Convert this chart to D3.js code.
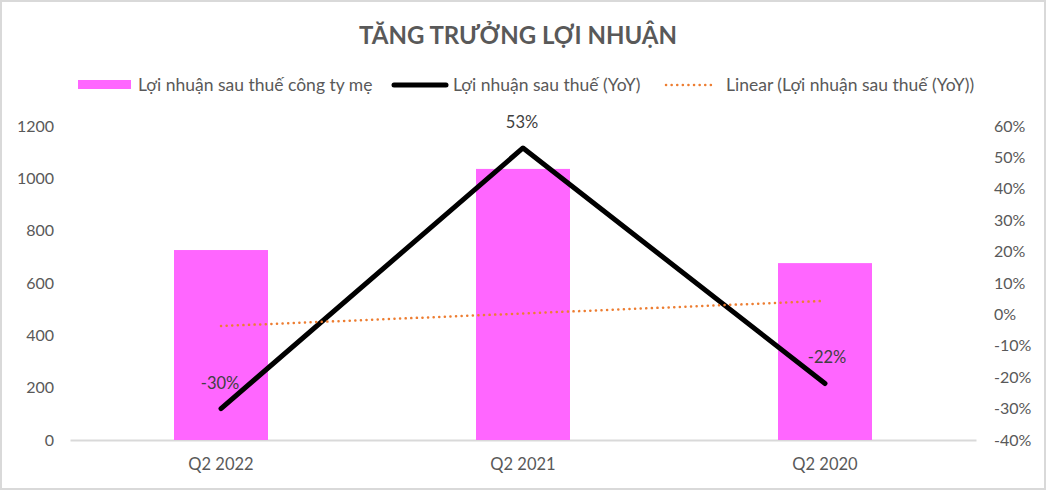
<!DOCTYPE html>
<html>
<head>
<meta charset="utf-8">
<script src="https://cdn.jsdelivr.net/npm/d3@7"></script>
<style>
html,body{margin:0;padding:0;background:#fff;}
svg{display:block;font-family:Lato, "Open Sans", sans-serif;}
</style>
</head>
<body>
<svg id="chart" width="1046" height="490"></svg>
<script>
const categories = ["Q2 2022", "Q2 2021", "Q2 2020"];
const profitValues = [726, 1036, 676];
const yoyValues = [-30, 53, -22];
const yoyLabels = ["-30%", "53%", "-22%"];
const trendValues = [-3.7, 0.3, 4.3];
const leftTicks = [0, 200, 400, 600, 800, 1000, 1200];
const rightTicks = [-40, -30, -20, -10, 0, 10, 20, 30, 40, 50, 60];
const title = "TĂNG TRƯỞNG LỢI NHUẬN";
const legendLabels = ["Lợi nhuận sau thuế công ty mẹ", "Lợi nhuận sau thuế (YoY)", "Linear (Lợi nhuận sau thuế (YoY))"];

const svg = d3.select("#chart");
const W = 1046, H = 490;
const textColor = "#595959";

svg.append("rect").attr("x", 1).attr("y", 1).attr("width", W - 2).attr("height", H - 2)
  .attr("fill", "#fff").attr("stroke", "#d9d9d9").attr("stroke-width", 2);

const x = d3.scaleBand().domain(categories).range([70, 976]).paddingInner(0).paddingOuter(0);
const barW = 94;
const yL = d3.scaleLinear().domain([0, 1200]).range([440, 126]);
const yR = d3.scaleLinear().domain([-40, 60]).range([440, 126]);

// title
svg.append("text").attr("x", 518).attr("y", 44).attr("text-anchor", "middle")
  .attr("font-size", 24).attr("font-weight", "bold").attr("fill", textColor).text(title);

// left axis
const axL = svg.append("g").attr("transform", "translate(54,0)")
  .call(d3.axisLeft(yL).tickValues(leftTicks).tickSize(0).tickPadding(0).tickFormat(d3.format("d")));
axL.select(".domain").remove();
axL.selectAll("text").attr("font-size", 16).attr("fill", textColor).attr("font-family", "Lato, sans-serif");

// right axis
const axR = svg.append("g").attr("transform", "translate(994,0)")
  .call(d3.axisRight(yR).tickValues(rightTicks).tickSize(0).tickPadding(0).tickFormat(d => d + "%"));
axR.select(".domain").remove();
axR.selectAll("text").attr("font-size", 16).attr("fill", textColor).attr("font-family", "Lato, sans-serif");

// bottom axis
const axB = svg.append("g").attr("transform", "translate(0,440)")
  .call(d3.axisBottom(x).tickSize(0).tickPadding(18));
axB.select(".domain").attr("stroke", "#d9d9d9").attr("stroke-width", 2);
axB.selectAll("text").attr("font-size", 16.5).attr("fill", textColor).attr("font-family", "Lato, sans-serif");

// bars
svg.append("g").selectAll("rect").data(profitValues).join("rect")
  .attr("x", (d, i) => x(categories[i]) + x.bandwidth() / 2 - barW / 2)
  .attr("width", barW)
  .attr("y", d => yL(d))
  .attr("height", d => yL(0) - yL(d))
  .attr("fill", "#FF66FF");

const cx = (i) => x(categories[i]) + x.bandwidth() / 2;

// YoY line
const line = d3.line().x((d, i) => cx(i)).y(d => yR(d));
svg.append("path").datum(yoyValues).attr("d", line)
  .attr("fill", "none").attr("stroke", "#000").attr("stroke-width", 5)
  .attr("stroke-linecap", "round").attr("stroke-linejoin", "round");

// trend line
svg.append("path").datum(trendValues).attr("d", line)
  .attr("fill", "none").attr("stroke", "#ED7D31").attr("stroke-width", 2.5)
  .attr("stroke-dasharray", "0.1 5.5").attr("stroke-linecap", "round");

// data labels
svg.append("g").selectAll("text").data(yoyValues).join("text")
  .attr("x", (d, i) => cx(i) + (i === 2 ? 2 : -1))
  .attr("y", d => yR(d) - 20)
  .attr("text-anchor", "middle").attr("font-size", 16.5).attr("fill", "#404040")
  .text((d, i) => yoyLabels[i]);

// legend
const lg = svg.append("g");
lg.append("rect").attr("x", 78).attr("y", 80).attr("width", 53).attr("height", 9).attr("fill", "#FF66FF");
lg.append("text").attr("x", 138).attr("y", 91).attr("font-size", 17.5).attr("fill", textColor).text(legendLabels[0]);
lg.append("line").attr("x1", 394).attr("x2", 446).attr("y1", 85).attr("y2", 85)
  .attr("stroke", "#000").attr("stroke-width", 5).attr("stroke-linecap", "round");
lg.append("text").attr("x", 453).attr("y", 91).attr("font-size", 17.5).attr("fill", textColor).text(legendLabels[1]);
lg.append("line").attr("x1", 666).attr("x2", 716).attr("y1", 85).attr("y2", 85)
  .attr("stroke", "#ED7D31").attr("stroke-width", 2.5)
  .attr("stroke-dasharray", "0.1 5.5").attr("stroke-linecap", "round");
lg.append("text").attr("x", 726).attr("y", 91).attr("font-size", 17.5).attr("fill", textColor).text(legendLabels[2]);
</script>
</body>
</html>
